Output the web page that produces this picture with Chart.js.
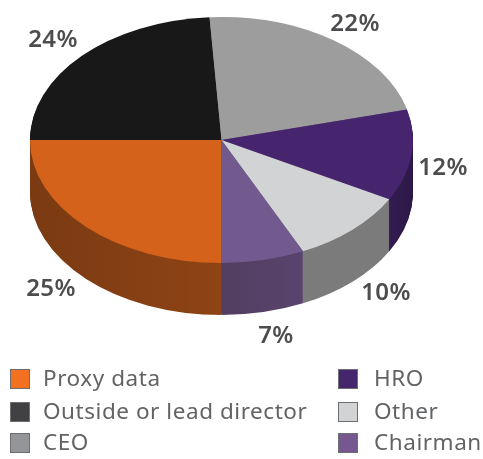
<!DOCTYPE html>
<html>
<head>
<meta charset="utf-8">
<script src="https://cdn.jsdelivr.net/npm/chart.js@4"></script>
<style>
html,body{margin:0;padding:0;background:#fff}
canvas{display:block}
</style>
</head>
<body>
<canvas id="c" width="483" height="459"></canvas>
<script>
const categories = ["Proxy data","Outside or lead director","CEO","HRO","Other","Chairman"];
const shares = [25,24,22,12,10,7];
const topColors = ["#D5621A","#181818","#9D9D9D","#46246E","#D1D3D4","#735A8E"];
const legendColors = ["#F37021","#414042","#939598","#45266D","#D1D3D4","#76578F"];
const sideColorsLeft = ["#7B3A12","#111111","#707070","#3A2058","#7B7B7B","#523E60"];
const sideColorsRight = ["#8E4415","#111111","#707070","#2C1848","#7B7B7B","#5A4570"];

const LAYOUT = {
  left:30, right:413, cy:140, ry:123, depth:52,
  labelSpots:[[51,289],[53,40],[355,24],[443,168],[386,293],[276,336]],
  legendRows:[379,412,443], legendCols:[10,338], legendText:[33,36], legendRowsPerCol:3
};

const pie3d = {
  id:'pie3d',
  beforeDatasetsDraw(chart){
    const ctx = chart.ctx, meta = chart.getDatasetMeta(0), arcs = meta.data;
    const rx = arcs[0].outerRadius, s = LAYOUT.ry/rx, y0 = arcs[0].y;
    const place = dy => { ctx.translate(0,LAYOUT.cy+dy); ctx.scale(1,s); ctx.translate(0,-y0); };
    const sides = arcs.map((a,i)=>{
      const g = ctx.createLinearGradient(LAYOUT.left,0,LAYOUT.right,0);
      if(i===0){ g.addColorStop(0,sideColorsLeft[i]); g.addColorStop(0.5,sideColorsRight[i]); }
      else if(i===5){ g.addColorStop(0.5,sideColorsLeft[i]); g.addColorStop(0.75,sideColorsRight[i]); }
      else if(i===3){ g.addColorStop(0.88,sideColorsLeft[i]); g.addColorStop(1,sideColorsRight[i]); }
      else { g.addColorStop(0,sideColorsLeft[i]); g.addColorStop(1,sideColorsRight[i]); }
      return g;
    });
    for(let d=LAYOUT.depth; d>=1; d--){
      ctx.save(); place(d);
      arcs.forEach((a,i)=>{
        const o = a.options;
        a.options = {...o, backgroundColor:sides[i]};
        a.draw(ctx);
        a.options = o;
      });
      ctx.restore();
    }
    ctx.save(); place(0);
  },
  afterDatasetsDraw(chart){
    chart.ctx.restore();
  },
  afterDraw(chart){
    const ctx = chart.ctx;
    ctx.save();
    ctx.textBaseline='middle'; ctx.textAlign='center';
    ctx.fillStyle='#4D4D4F';
    ctx.font='600 24px "Noto Sans"';
    ctx.letterSpacing='0.3px';
    chart.data.datasets[0].data.forEach((v,i)=>{
      const p = LAYOUT.labelSpots[i];
      ctx.fillText(v+'%',p[0],p[1]);
    });
    ctx.textAlign='left';
    ctx.font='400 22.5px "Noto Sans"';
    ctx.letterSpacing='0.55px';
    chart.data.labels.forEach((t,i)=>{
      const col = Math.floor(i/LAYOUT.legendRowsPerCol), row = i%LAYOUT.legendRowsPerCol;
      const x = LAYOUT.legendCols[col], y = LAYOUT.legendRows[row];
      ctx.fillStyle=legendColors[i];
      ctx.fillRect(x,y-10,20,20);
      ctx.strokeStyle='#6D6E71'; ctx.lineWidth=1;
      ctx.strokeRect(x+.5,y-9.5,19,19);
      ctx.fillStyle='#626365';
      ctx.fillText(t,x+LAYOUT.legendText[col],y+1);
    });
    ctx.restore();
  }
};

new Chart(document.getElementById('c'),{
  type:'pie',
  data:{labels:categories,datasets:[{data:shares,backgroundColor:topColors,borderWidth:0,clip:false}]},
  options:{
    responsive:false,animation:false,rotation:180,
    events:[],
    layout:{padding:{left:LAYOUT.left,right:483-LAYOUT.right,top:38,bottom:38}},
    plugins:{legend:{display:false},tooltip:{enabled:false},title:{display:false}}
  },
  plugins:[pie3d]
});
</script>
</body>
</html>
